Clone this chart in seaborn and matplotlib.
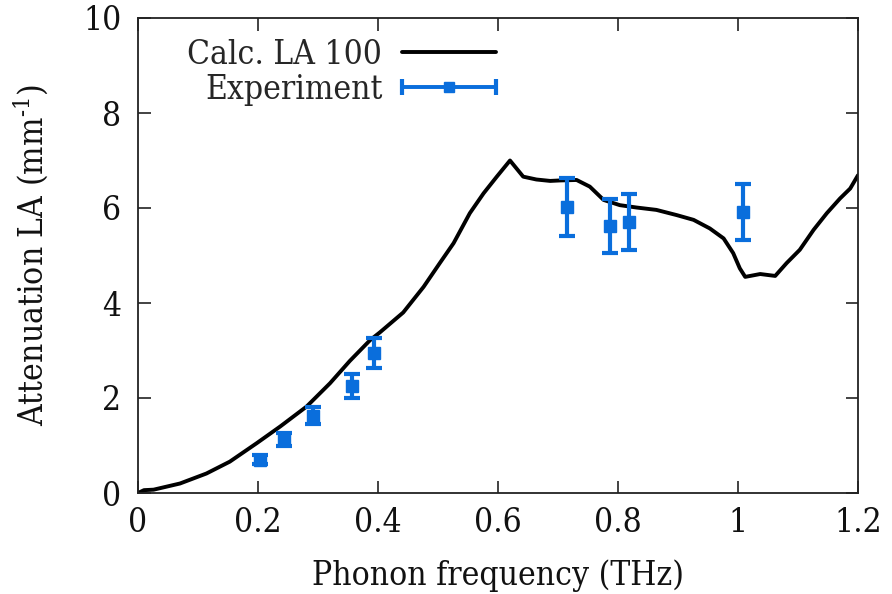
import numpy as np
import pandas as pd
import matplotlib
matplotlib.use("Agg")
import matplotlib.pyplot as plt
from matplotlib.legend_handler import HandlerErrorbar
import seaborn as sns

# Calculated curve (Calc. LA 100)
calc_freq = [0.0, 0.01, 0.026, 0.07, 0.114, 0.153, 0.198, 0.237, 0.281, 0.32, 0.353,
             0.387, 0.403, 0.442, 0.476, 0.503, 0.526, 0.553, 0.576, 0.598, 0.62,
             0.642, 0.664, 0.687, 0.703, 0.731, 0.753, 0.776, 0.803, 0.831, 0.864,
             0.898, 0.926, 0.953, 0.976, 0.992, 1.003, 1.012, 1.037, 1.062, 1.081,
             1.103, 1.126, 1.148, 1.17, 1.187, 1.2]
calc_att = [0.0, 0.06, 0.07, 0.2, 0.41, 0.66, 1.05, 1.4, 1.82, 2.31, 2.78,
            3.22, 3.38, 3.8, 4.34, 4.84, 5.26, 5.89, 6.31, 6.66, 7.0,
            6.66, 6.6, 6.57, 6.58, 6.59, 6.45, 6.17, 6.06, 6.01, 5.96,
            5.85, 5.75, 5.57, 5.36, 5.05, 4.73, 4.55, 4.61, 4.57, 4.84,
            5.12, 5.54, 5.89, 6.2, 6.41, 6.69]

# Experiment
exp_freq = [0.204, 0.244, 0.291, 0.356, 0.393, 0.715, 0.787, 0.819, 1.009]
exp_att = [0.70, 1.12, 1.63, 2.25, 2.95, 6.03, 5.63, 5.71, 5.91]
exp_err = [0.09, 0.14, 0.18, 0.25, 0.32, 0.61, 0.57, 0.59, 0.59]

x_ticks = [0, 0.2, 0.4, 0.6, 0.8, 1.0, 1.2]
x_ticklabels = ["0", "0.2", "0.4", "0.6", "0.8", "1", "1.2"]
y_ticks = [0, 2, 4, 6, 8, 10]

sns.set_theme(style="ticks")
plt.rcParams["font.family"] = ["DejaVu Serif"]
plt.rcParams["font.stretch"] = "condensed"
plt.rcParams["mathtext.fontset"] = "dejavuserif"

blue = "#0a6edc"
FS = 24

fig = plt.figure(figsize=(8.92, 5.94), dpi=100)
ax = fig.add_axes([138 / 892, 101 / 594, 720 / 892, 475 / 594])

calc_df = pd.DataFrame({"freq": calc_freq, "att": calc_att})
sns.lineplot(data=calc_df, x="freq", y="att", ax=ax, color="black", lw=2.8,
             sort=False, estimator=None, legend=False)
calc_line = ax.get_lines()[-1]
calc_line.set_label("Calc. LA 100")

ax.errorbar(exp_freq, exp_att, yerr=exp_err, fmt="s", color=blue, ms=9,
            elinewidth=3, capsize=6, capthick=3)

# legend proxy with horizontal error bar
proxy = ax.errorbar([np.nan], [np.nan], xerr=[0.1], fmt="s-", color=blue, ms=7,
                    lw=2.6, elinewidth=2.6, capsize=6, capthick=3, label="Experiment")

ax.set_xlim(0, 1.2)
ax.set_ylim(0, 10)
ax.set_xticks(x_ticks)
ax.set_xticklabels(x_ticklabels)
ax.set_yticks(y_ticks)
ax.tick_params(direction="in", length=9, width=1.2, top=True, right=True,
               labelsize=FS, color="#222222", labelcolor="#111111")
ax.tick_params(axis="x", pad=10)
ax.tick_params(axis="y", pad=12)
for s in ax.spines.values():
    s.set_linewidth(1.3)
    s.set_color("#222222")

ax.set_xlabel("Phonon frequency (THz)", fontsize=FS, labelpad=15, color="#111111")
ax.set_ylabel("Attenuation LA (mm$^{\\text{-1}}$)", fontsize=FS, labelpad=24,
              color="#111111")

HL = 2.8
leg = ax.legend(handles=[calc_line, proxy], labels=["Calc. LA 100", "Experiment"],
                loc="upper left", bbox_to_anchor=(0.027, 1.02), frameon=False,
                markerfirst=False, fontsize=FS, handlelength=HL,
                handletextpad=0.6, labelspacing=0.1,
                handler_map={proxy: HandlerErrorbar(xerr_size=HL / 2)})
for t in leg.get_texts():
    t.set_ha("right")

fig.savefig("out.png", dpi=100)
